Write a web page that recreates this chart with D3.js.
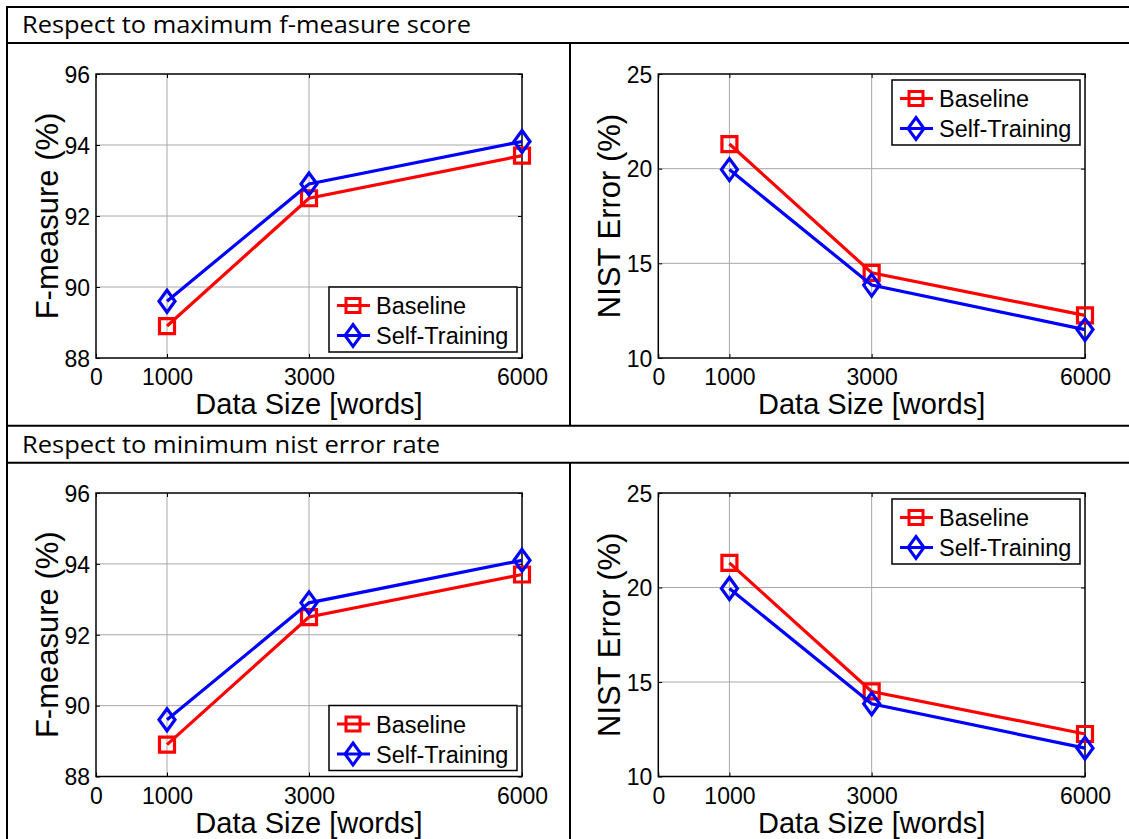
<!DOCTYPE html>
<html>
<head>
<meta charset="utf-8">
<script src="https://cdn.jsdelivr.net/npm/d3@7"></script>
<style>
  html, body { margin: 0; padding: 0; background: #fff; }
  svg { display: block; }
</style>
</head>
<body>
<svg id="chart" width="1129" height="839"></svg>
<script>
// ---------------- data ----------------
const dataSize = [1000, 3000, 6000];
const xTickValues = [0, 1000, 3000, 6000];

const fBaseline = [88.9, 92.5, 93.7];
const fSelfTraining = [89.6, 92.9, 94.1];
const fTickValues = [88, 90, 92, 94, 96];

const nistBaseline = [21.3, 14.5, 12.25];
const nistSelfTraining = [19.95, 13.85, 11.5];
const nistTickValues = [10, 15, 20, 25];

const seriesNames = ["Baseline", "Self-Training"];
const rowTitles = ["Respect to maximum f-measure score", "Respect to minimum nist error rate"];
const xLabel = "Data Size [words]";
const fLabel = "F-measure (%)";
const nistLabel = "NIST Error (%)";

// ---------------- drawing ----------------
const svg = d3.select("#chart");
const W = 1129, H = 839;
const NUM_FONT = "'Liberation Sans', Arial, sans-serif";
const HEAD_FONT = "'Open Sans', Lato, sans-serif";
const RED = "#ff0000", BLUE = "#0000ff";

// table frame
const tbl = svg.append("g").attr("stroke", "#000").attr("stroke-width", 2);
tbl.append("line").attr("x1", 7).attr("x2", W).attr("y1", 7).attr("y2", 7);
tbl.append("line").attr("x1", 7).attr("x2", 7).attr("y1", 6).attr("y2", H);
tbl.append("line").attr("x1", 7).attr("x2", W).attr("y1", 43).attr("y2", 43);
tbl.append("line").attr("x1", 7).attr("x2", W).attr("y1", 425.7).attr("y2", 425.7);
tbl.append("line").attr("x1", 7).attr("x2", W).attr("y1", 462.7).attr("y2", 462.7);
tbl.append("line").attr("x1", 570).attr("x2", 570).attr("y1", 43).attr("y2", 425.7);
tbl.append("line").attr("x1", 570).attr("x2", 570).attr("y1", 462.7).attr("y2", H);

const titleWidths = [449, 418];
rowTitles.forEach((t, i) => {
  svg.append("text")
    .attr("x", 22).attr("y", 33 + i * 420)
    .attr("font-family", HEAD_FONT).attr("font-size", 23)
    .attr("textLength", titleWidths[i]).attr("lengthAdjust", "spacingAndGlyphs")
    .attr("fill", "#000")
    .text(t);
});

function drawPanel(opts) {
  const { left, right, top, bottom, yDomain, yTicks, yLabel, base, self, legendPos } = opts;
  const g = svg.append("g");
  const x = d3.scaleLinear().domain([0, 6000]).range([left, right]);
  const y = d3.scaleLinear().domain(yDomain).range([bottom, top]);

  // grid
  const grid = g.append("g");
  grid.selectAll("line.vg").data(xTickValues.filter(v => v > 0 && v < 6000)).enter()
    .append("line").attr("x1", d => x(d)).attr("x2", d => x(d))
    .attr("y1", top).attr("y2", bottom)
    .attr("stroke", "#a8a8a8").attr("stroke-width", 1);
  grid.selectAll("line.hg").data(yTicks.filter(v => v > yDomain[0] && v < yDomain[1])).enter()
    .append("line").attr("x1", left).attr("x2", right)
    .attr("y1", d => y(d)).attr("y2", d => y(d))
    .attr("stroke", "#a8a8a8").attr("stroke-width", 1);

  // axes (ticks inward)
  const axB = g.append("g").attr("transform", `translate(0,${bottom})`)
    .call(d3.axisBottom(x).tickValues(xTickValues).tickSize(-4).tickPadding(11).tickFormat(d3.format("d")));
  const axT = g.append("g").attr("transform", `translate(0,${top})`)
    .call(d3.axisTop(x).tickValues(xTickValues).tickSize(-4).tickFormat(""));
  const axL = g.append("g").attr("transform", `translate(${left},0)`)
    .call(d3.axisLeft(y).tickValues(yTicks).tickSize(-4).tickPadding(6).tickFormat(d3.format("d")));
  const axR = g.append("g").attr("transform", `translate(${right},0)`)
    .call(d3.axisRight(y).tickValues(yTicks).tickSize(-4).tickFormat(""));
  [axB, axT, axL, axR].forEach(a => {
    a.select(".domain").remove();
    a.selectAll(".tick line").attr("stroke", "#000").attr("stroke-width", 1);
    a.selectAll("text").attr("font-family", NUM_FONT).attr("font-size", 23).attr("fill", "#000");
  });
  axB.selectAll("text").attr("dy", "0.71em");
  axL.selectAll("text").attr("dy", "0.36em");

  // box
  g.append("rect").attr("x", left).attr("y", top)
    .attr("width", right - left).attr("height", bottom - top)
    .attr("fill", "none").attr("stroke", "#000").attr("stroke-width", 1.5);

  // labels
  g.append("text").attr("x", (left + right) / 2).attr("y", bottom + 56)
    .attr("text-anchor", "middle").attr("font-family", NUM_FONT).attr("font-size", 29)
    .attr("fill", "#000").text(xLabel);
  g.append("text")
    .attr("transform", `translate(${left - 38},${(top + bottom) / 2}) rotate(-90)`)
    .attr("text-anchor", "middle").attr("font-family", NUM_FONT).attr("font-size", 31)
    .attr("fill", "#000").text(yLabel);

  const line = d3.line().x((d, i) => x(dataSize[i])).y(d => y(d));
  const squarePath = (cx, cy, s) => `M${cx - s},${cy - s}H${cx + s}V${cy + s}H${cx - s}Z`;
  const diamondPath = (cx, cy, w, h) => `M${cx},${cy - h}L${cx + w},${cy}L${cx},${cy + h}L${cx - w},${cy}Z`;

  // baseline series
  g.append("path").datum(base).attr("d", line)
    .attr("fill", "none").attr("stroke", RED).attr("stroke-width", 3.2);
  g.selectAll("path.sq").data(base).enter().append("path")
    .attr("d", (d, i) => squarePath(x(dataSize[i]), y(d), 7.5))
    .attr("fill", "none").attr("stroke", RED).attr("stroke-width", 3.2);
  // self-training series
  g.append("path").datum(self).attr("d", line)
    .attr("fill", "none").attr("stroke", BLUE).attr("stroke-width", 3.2);
  g.selectAll("path.dm").data(self).enter().append("path")
    .attr("d", (d, i) => diamondPath(x(dataSize[i]), y(d), 8, 11))
    .attr("fill", "none").attr("stroke", BLUE).attr("stroke-width", 3.2);

  // legend
  const lw = 188, lh = 65;
  const lx = right - 5 - lw;
  const ly = legendPos === "bottom" ? bottom - 6 - lh : top + 6;
  const lg = g.append("g");
  lg.append("rect").attr("x", lx).attr("y", ly).attr("width", lw).attr("height", lh)
    .attr("fill", "#fff").attr("stroke", "#000").attr("stroke-width", 1.5);
  const entryY = [ly + 18.5, ly + 48.5];
  const colors = [RED, BLUE];
  seriesNames.forEach((name, i) => {
    lg.append("line").attr("x1", lx + 8).attr("x2", lx + 41)
      .attr("y1", entryY[i]).attr("y2", entryY[i])
      .attr("stroke", colors[i]).attr("stroke-width", 3);
    lg.append("path")
      .attr("d", i === 0 ? squarePath(lx + 24, entryY[i], 7) : diamondPath(lx + 24, entryY[i], 8, 11))
      .attr("fill", "none").attr("stroke", colors[i]).attr("stroke-width", 3);
    lg.append("text").attr("x", lx + 47).attr("y", entryY[i] + 8.5)
      .attr("font-family", NUM_FONT).attr("font-size", 23.5).attr("fill", "#000")
      .text(name);
  });
}

const cols = [{ left: 96, right: 522 }, { left: 658.3, right: 1085 }];
const rows = [{ top: 74, bottom: 358 }, { top: 493, bottom: 776.5 }];

rows.forEach(r => {
  drawPanel({
    left: cols[0].left, right: cols[0].right, top: r.top, bottom: r.bottom,
    yDomain: [88, 96], yTicks: fTickValues, yLabel: fLabel,
    base: fBaseline, self: fSelfTraining, legendPos: "bottom"
  });
  drawPanel({
    left: cols[1].left, right: cols[1].right, top: r.top, bottom: r.bottom,
    yDomain: [10, 25], yTicks: nistTickValues, yLabel: nistLabel,
    base: nistBaseline, self: nistSelfTraining, legendPos: "top"
  });
});
</script>
</body>
</html>
